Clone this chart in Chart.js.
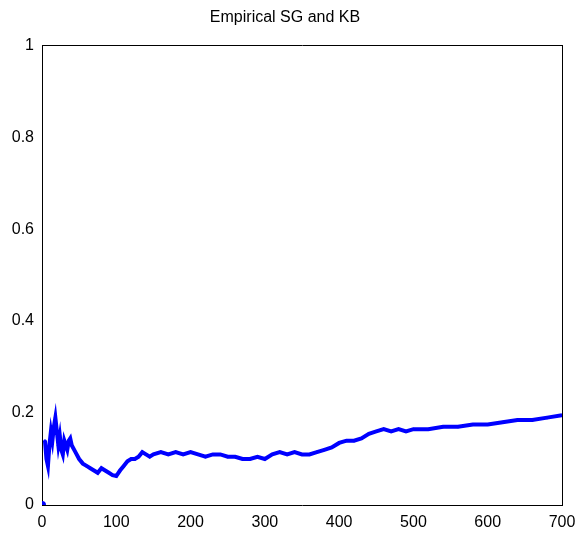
<!DOCTYPE html>
<html>
<head>
<meta charset="utf-8">
<script src="https://cdn.jsdelivr.net/npm/chart.js@4"></script>
<style>
  html, body { margin: 0; padding: 0; background: #fff; }
  #wrap { width: 584px; height: 541px; }
</style>
</head>
<body>
<div id="wrap"><canvas id="c" width="584" height="541"></canvas></div>
<script>
// data
const xs = [0, 4, 6, 8, 10, 12, 14, 16, 18, 20, 22, 24, 26, 28, 30, 32, 34, 36, 38, 40,
  45, 50, 55, 60, 65, 70, 75, 80, 85, 90, 95, 100, 105, 110, 115, 120, 125, 130, 135, 140,
  145, 150, 160, 170, 180, 190, 200, 210, 220, 230, 240, 250, 260, 270, 280, 290, 300,
  310, 320, 330, 340, 350, 360, 370, 380, 390, 400, 410, 420, 430, 440, 450, 460, 470,
  480, 490, 500, 520, 540, 560, 580, 600, 620, 640, 660, 680, 700]
const ys = [0, 0.14, 0.10, 0.085, 0.13, 0.16, 0.14, 0.17, 0.19, 0.16, 0.13, 0.15, 0.12, 0.11, 0.14, 0.13, 0.12, 0.14, 0.145, 0.13,
  0.115, 0.10, 0.09, 0.085, 0.08, 0.075, 0.07, 0.08, 0.075, 0.07, 0.065, 0.063, 0.075, 0.085, 0.095, 0.10, 0.10, 0.105, 0.115, 0.11,
  0.105, 0.11, 0.115, 0.11, 0.115, 0.11, 0.115, 0.11, 0.105, 0.11, 0.11, 0.105, 0.105, 0.10, 0.10, 0.105, 0.10,
  0.11, 0.115, 0.11, 0.115, 0.11, 0.11, 0.115, 0.12, 0.125, 0.135, 0.14, 0.14, 0.145, 0.155, 0.16, 0.165, 0.16,
  0.165, 0.16, 0.165, 0.165, 0.17, 0.17, 0.175, 0.175, 0.18, 0.185, 0.185, 0.19, 0.195]
const xTicks = [0, 100, 200, 300, 400, 500, 600, 700]
const yTicks = [0, 0.2, 0.4, 0.6, 0.8, 1]

const font = { family: "'Liberation Sans', Arial, sans-serif", size: 16 }

new Chart(document.querySelector('#c'), {
  type: 'scatter',
  data: {
    datasets: [{
      data: xs.map((x, i) => ({ x, y: ys[i] })),
      borderColor: '#0000ff',
      backgroundColor: '#0000ff',
      borderWidth: 4,
      showLine: true,
      // the first point sits alone, no line from it
      segment: { borderColor: (s) => s.p0DataIndex === 0 ? 'rgba(0,0,0,0)' : undefined },
      pointRadius: xs.map((x, i) => i === 0 ? 4 : 1.5),
      pointBorderWidth: 0,
      pointStyle: 'circle',
    }],
  },
  options: {
    responsive: false,
    animation: false,
    layout: { padding: { top: 0, right: 14, bottom: 0, left: 0 } },
    plugins: {
      legend: { display: false },
      tooltip: { enabled: false },
      title: {
        display: true,
        text: 'Empirical SG and KB',
        color: '#000',
        font: { ...font, size: 16, weight: 'normal' },
        padding: { top: 8, bottom: 10 },
      },
    },
    scales: {
      x: {
        type: 'linear', min: 0, max: 700,
        afterBuildTicks: (ax) => { ax.ticks = xTicks.map(v => ({ value: v })) },
        afterFit: (ax) => { ax.height = 36 },
        grid: { display: false, drawTicks: true, tickLength: 6, color: '#000' },
        border: { color: '#000', width: 1 },
        ticks: { color: '#000', font, maxRotation: 0, padding: 2 },
      },
      x2: {
        type: 'linear', position: 'top', min: 0, max: 700,
        grid: { display: false }, border: { color: '#000' },
        ticks: { display: false },
      },
      y: {
        min: 0, max: 1,
        afterBuildTicks: (ax) => { ax.ticks = yTicks.map(v => ({ value: v })) },
        afterFit: (ax) => { ax.width = 42 },
        grid: { display: false, drawTicks: true, tickLength: 6, color: '#000' },
        border: { color: '#000', width: 1 },
        ticks: { color: '#000', font, padding: 2, callback: (v) => String(v) },
      },
      y2: {
        position: 'right', min: 0, max: 1,
        grid: { display: false }, border: { color: '#000' },
        ticks: { display: false },
      },
    },
  },
})
</script>
</body>
</html>
